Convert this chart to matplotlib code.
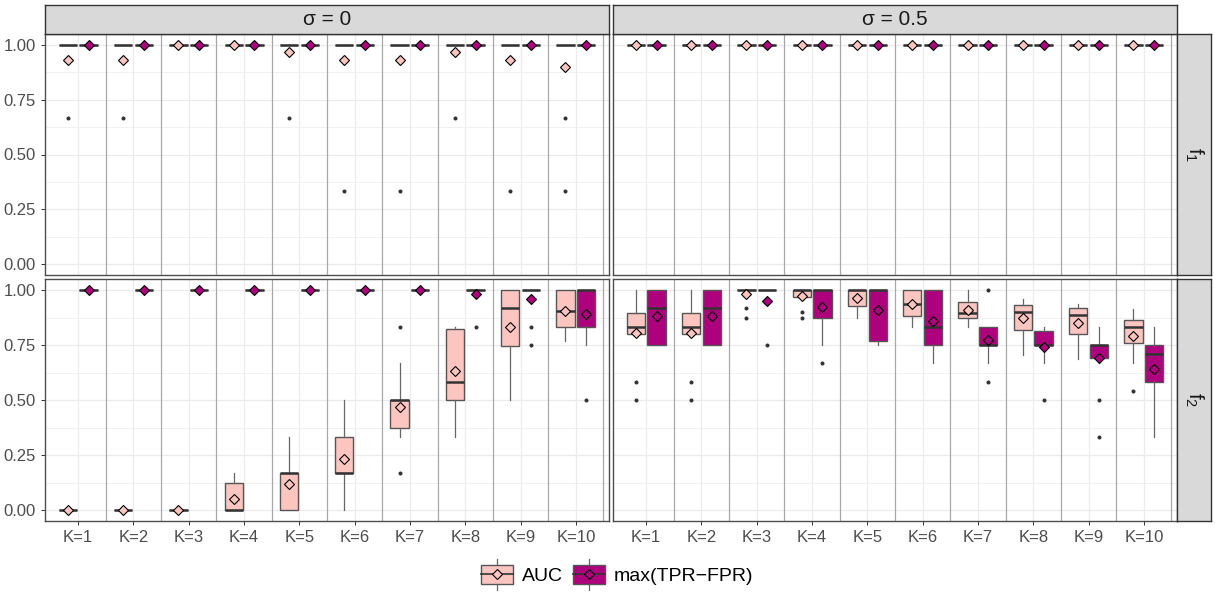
import matplotlib
matplotlib.use('Agg')
import matplotlib.pyplot as plt
from matplotlib.patches import Rectangle
from matplotlib.lines import Line2D
from matplotlib.legend_handler import HandlerBase

plt.rcParams['font.family'] = ['Liberation Sans', 'DejaVu Sans']

# categories / labels
ks = [1, 2, 3, 4, 5, 6, 7, 8, 9, 10]
k_labels = ['K=1', 'K=2', 'K=3', 'K=4', 'K=5', 'K=6', 'K=7', 'K=8', 'K=9', 'K=10']
sigma_labels = ['σ = 0', 'σ = 0.5']
f_labels = [r'$\mathregular{f_1}$', r'$\mathregular{f_2}$']
methods = ['AUC', 'max(TPR\u2212FPR)']
colors = ['#FCC5C0', '#AE017E']

# box stats per K: (whisker low, q1, median, q3, whisker high)
ONE = (1, 1, 1, 1, 1)
ZERO = (0, 0, 0, 0, 0)

# sigma = 0, f1
s0_f1_auc_box = [ONE] * 10
s0_f1_auc_mean = [0.933, 0.933, 1.0, 1.0, 0.967, 0.933, 0.933, 0.967, 0.933, 0.9]
s0_f1_auc_out = [[0.667], [0.667], [], [], [0.667], [0.333], [0.333], [0.667], [0.333], [0.667, 0.333]]
s0_f1_max_box = [ONE] * 10
s0_f1_max_mean = [1.0] * 10
s0_f1_max_out = [[]] * 10

# sigma = 0.5, f1
s05_f1_auc_box = [ONE] * 10
s05_f1_auc_mean = [1.0] * 10
s05_f1_auc_out = [[]] * 10
s05_f1_max_box = [ONE] * 10
s05_f1_max_mean = [1.0] * 10
s05_f1_max_out = [[]] * 10

# sigma = 0, f2
s0_f2_auc_box = [ZERO, ZERO, ZERO,
                 (0, 0, 0, 0.125, 0.167),
                 (0, 0, 0.167, 0.167, 0.333),
                 (0, 0.167, 0.167, 0.333, 0.5),
                 (0.333, 0.375, 0.5, 0.5, 0.667),
                 (0.333, 0.5, 0.583, 0.823, 0.833),
                 (0.5, 0.745, 0.917, 1.0, 1.0),
                 (0.77, 0.833, 0.905, 1.0, 1.0)]
s0_f2_auc_mean = [0.0, 0.0, 0.0, 0.05, 0.117, 0.233, 0.467, 0.63, 0.833, 0.905]
s0_f2_auc_out = [[], [], [], [], [], [], [0.833, 0.167], [], [], []]
s0_f2_max_box = [ONE, ONE, ONE, ONE, ONE, ONE, ONE, ONE, ONE,
                 (0.75, 0.833, 1.0, 1.0, 1.0)]
s0_f2_max_mean = [1.0, 1.0, 1.0, 1.0, 1.0, 1.0, 1.0, 0.98, 0.958, 0.89]
s0_f2_max_out = [[], [], [], [], [], [], [], [0.833], [0.833, 0.75], [0.5]]

# sigma = 0.5, f2
s05_f2_auc_box = [(0.8, 0.802, 0.833, 0.897, 1.0),
                  (0.8, 0.802, 0.833, 0.897, 1.0),
                  ONE,
                  (0.967, 0.967, 1.0, 1.0, 1.0),
                  (0.875, 0.927, 1.0, 1.0, 1.0),
                  (0.833, 0.88, 0.937, 1.0, 1.0),
                  (0.833, 0.875, 0.897, 0.947, 1.0),
                  (0.706, 0.816, 0.9, 0.933, 0.957),
                  (0.686, 0.8, 0.886, 0.916, 0.938),
                  (0.667, 0.76, 0.833, 0.863, 0.915)]
s05_f2_auc_mean = [0.805, 0.805, 0.98, 0.973, 0.965, 0.936, 0.907, 0.871, 0.848, 0.793]
s05_f2_auc_out = [[0.583, 0.5], [0.583, 0.5], [0.917, 0.875], [0.9, 0.875], [], [], [], [], [], [0.54]]
s05_f2_max_box = [(0.75, 0.75, 0.917, 1.0, 1.0),
                  (0.75, 0.75, 0.917, 1.0, 1.0),
                  ONE,
                  (0.75, 0.875, 1.0, 1.0, 1.0),
                  (0.75, 0.77, 1.0, 1.0, 1.0),
                  (0.667, 0.75, 0.833, 1.0, 1.0),
                  (0.667, 0.75, 0.75, 0.833, 0.833),
                  (0.667, 0.75, 0.75, 0.813, 0.833),
                  (0.667, 0.69, 0.75, 0.75, 0.833),
                  (0.333, 0.583, 0.708, 0.75, 0.833)]
s05_f2_max_mean = [0.883, 0.883, 0.95, 0.924, 0.909, 0.858, 0.775, 0.741, 0.693, 0.641]
s05_f2_max_out = [[], [], [0.75], [0.667], [], [], [1.0, 0.583], [0.5], [0.5, 0.333], []]

panels = {
    (0, 0): [(s0_f1_auc_box, s0_f1_auc_mean, s0_f1_auc_out), (s0_f1_max_box, s0_f1_max_mean, s0_f1_max_out)],
    (0, 1): [(s05_f1_auc_box, s05_f1_auc_mean, s05_f1_auc_out), (s05_f1_max_box, s05_f1_max_mean, s05_f1_max_out)],
    (1, 0): [(s0_f2_auc_box, s0_f2_auc_mean, s0_f2_auc_out), (s0_f2_max_box, s0_f2_max_mean, s0_f2_max_out)],
    (1, 1): [(s05_f2_auc_box, s05_f2_auc_mean, s05_f2_auc_out), (s05_f2_max_box, s05_f2_max_mean, s05_f2_max_out)],
}

W, H = 1215, 595
fig = plt.figure(figsize=(W / 100, H / 100), dpi=100)


def px_rect(x0, y0, x1, y1):
    return [x0 / W, 1 - y1 / H, (x1 - x0) / W, (y1 - y0) / H]


col_x = [(45, 609), (613, 1177)]
row_y = [(34, 275), (279, 521)]
dodge = [-0.1875, 0.1875]
edge = '#333333'
box_edge = '#555555'
whisk = '#666666'


def draw_boxes(ax, boxes, means, outs, offset, color):
    stats = []
    for b, m, o in zip(boxes, means, outs):
        stats.append(dict(whislo=b[0], q1=b[1], med=b[2], q3=b[3], whishi=b[4], mean=m, fliers=o))
    ax.bxp(stats, positions=[k + offset for k in ks], widths=0.33, patch_artist=True,
           showmeans=True, showcaps=False, manage_ticks=False,
           boxprops=dict(facecolor=color, edgecolor=box_edge, linewidth=1.0),
           medianprops=dict(color=edge, linewidth=1.8),
           whiskerprops=dict(color=whisk, linewidth=0.9),
           flierprops=dict(marker='o', markersize=2.9, markerfacecolor=edge, markeredgecolor='none'),
           meanprops=dict(marker='D', markersize=5.6, markerfacecolor=color,
                          markeredgecolor='black', markeredgewidth=0.8),
           zorder=3)


for (r, c), series in panels.items():
    ax = fig.add_axes(px_rect(col_x[c][0], row_y[r][0], col_x[c][1], row_y[r][1]))
    ax.set_xlim(0.4, 10.6)
    ax.set_ylim(-0.05, 1.05)
    ax.set_yticks([0, 0.25, 0.5, 0.75, 1.0])
    ax.set_yticks([0.125, 0.375, 0.625, 0.875], minor=True)
    ax.set_xticks(ks)
    ax.grid(True, which='major', color='#EBEBEB', linewidth=0.9, zorder=0)
    ax.grid(True, which='minor', axis='y', color='#EBEBEB', linewidth=0.5, zorder=0)
    ax.set_axisbelow(True)
    for k in ks:
        ax.axvline(k + 0.5, color='#A8A8A8', linewidth=0.9, zorder=1)
    for (boxes, means, outs), off, col in zip(series, dodge, colors):
        draw_boxes(ax, boxes, means, outs, off, col)
    for sp in ax.spines.values():
        sp.set_color('#4D4D4D')
        sp.set_linewidth(1.0)
    ax.tick_params(which='minor', length=0)
    ax.tick_params(which='major', length=3, width=0.7, color=edge, labelcolor='#4D4D4D', labelsize=12)
    if r == 1:
        ax.set_xticklabels(k_labels)
    else:
        ax.tick_params(axis='x', length=0, labelbottom=False)
    if c == 0:
        ax.set_yticklabels(['0.00', '0.25', '0.50', '0.75', '1.00'])
    else:
        ax.tick_params(axis='y', length=0, labelleft=False)

# column strips
for c, lab in enumerate(sigma_labels):
    sax = fig.add_axes(px_rect(col_x[c][0], 5, col_x[c][1], 34))
    sax.set_facecolor('#D9D9D9')
    sax.set_xticks([])
    sax.set_yticks([])
    for sp in sax.spines.values():
        sp.set_color(edge)
        sp.set_linewidth(1.0)
    sax.text(0.5, 0.5, lab, ha='center', va='center', fontsize=15, color='#1A1A1A', transform=sax.transAxes)

# row strips
for r, lab in enumerate(f_labels):
    sax = fig.add_axes(px_rect(1177, row_y[r][0], 1211, row_y[r][1]))
    sax.set_facecolor('#D9D9D9')
    sax.set_xticks([])
    sax.set_yticks([])
    for sp in sax.spines.values():
        sp.set_color(edge)
        sp.set_linewidth(1.0)
    sax.text(0.5, 0.5, lab, ha='center', va='center', rotation=-90, fontsize=15, color='#1A1A1A',
             transform=sax.transAxes)


class BoxKey(HandlerBase):
    def create_artists(self, legend, orig_handle, xdescent, ydescent, width, height, fontsize, trans):
        fc = orig_handle.get_facecolor()
        x0, y0 = -xdescent, -ydescent
        xm, ym = x0 + width / 2, y0 + height / 2
        ext = height * 0.32
        arts = [
            Line2D([xm, xm], [y0 - ext, y0], color=whisk, lw=0.9),
            Line2D([xm, xm], [y0 + height, y0 + height + ext], color=whisk, lw=0.9),
            Rectangle((x0, y0), width, height, facecolor=fc, edgecolor=box_edge, lw=1.0),
            Line2D([x0, x0 + width], [ym, ym], color=edge, lw=1.2),
            Line2D([xm], [ym], marker='D', markersize=5.6, markerfacecolor=fc,
                   markeredgecolor='black', markeredgewidth=0.8),
        ]
        for a in arts:
            a.set_transform(trans)
        return arts


handles = [Rectangle((0, 0), 1, 1, facecolor=col) for col in colors]
fig.legend(handles, methods, loc='center', bbox_to_anchor=(0.508, 0.034), ncol=2, frameon=False,
           handler_map={Rectangle: BoxKey()}, handlelength=1.65, handleheight=1.13,
           handletextpad=0.45, columnspacing=0.5, fontsize=14)

fig.savefig('out.png', dpi=100)
